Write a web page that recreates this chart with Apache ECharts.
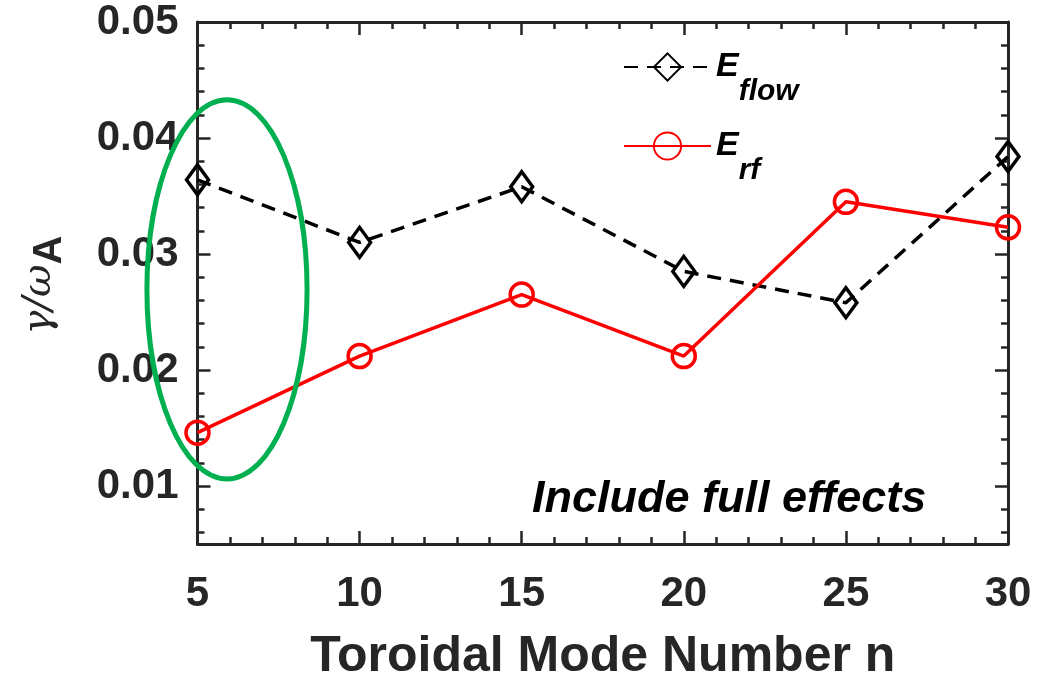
<!DOCTYPE html>
<html>
<head>
<meta charset="utf-8">
<script src="https://cdn.jsdelivr.net/npm/echarts@6/dist/echarts.min.js"></script>
<style>
  html, body { margin: 0; padding: 0; background: #ffffff; }
  #chart { width: 1038px; height: 677px; }
</style>
</head>
<body>
<div id="chart"></div>
<script>
// Toroidal mode numbers and normalised growth rates
const modeNumbers = [5, 10, 15, 20, 25, 30];
const flowRates = [0.0364, 0.0310, 0.0358, 0.0285, 0.0258, 0.0384];
const rfRates = [0.0146, 0.0212, 0.0265, 0.0212, 0.0345, 0.0323];

// y-axis tick positions
const yMajorTicks = [0.01, 0.02, 0.03, 0.04, 0.05];
const yMinorTicks = [0.006, 0.008, 0.012, 0.014, 0.016, 0.018, 0.022, 0.024, 0.026, 0.028,
                     0.032, 0.034, 0.036, 0.038, 0.042, 0.044, 0.046, 0.048];

// highlighted region: centre n, centre rate, half-width (n), half-height (rate)
const highlightRegion = [[5.91, 0.02695, 2.47, 0.01634]];

const INK = '#262626';
const FONT = '"Liberation Sans", Arial, Helvetica, sans-serif';
const Y_MIN = 0.005, Y_MAX = 0.05;

const chart = echarts.init(document.getElementById('chart'), null, { renderer: 'canvas' });

function xAxisDef(position, withLabels) {
  return {
    type: 'value', position: position, min: 5, max: 30, interval: 5,
    axisLine: { show: true, onZero: false, lineStyle: { color: INK, width: 3 } },
    axisTick: { show: true, inside: true, length: 13, lineStyle: { color: INK, width: 2.5 } },
    minorTick: { show: true, splitNumber: 5, length: 7, lineStyle: { color: INK, width: 2.5 } },
    splitLine: { show: false },
    axisLabel: {
      show: withLabels, margin: 29, color: INK, fontFamily: FONT, fontWeight: 'bold', fontSize: 42
    },
    name: withLabels ? 'Toroidal Mode Number n' : '',
    nameLocation: 'middle', nameGap: 88,
    nameTextStyle: { color: INK, fontFamily: FONT, fontWeight: 'bold', fontSize: 50 }
  };
}

function yAxisDef(position, ticks, tickLen, withLabels, withLine) {
  return {
    type: 'value', position: position, min: Y_MIN, max: Y_MAX,
    axisLine: { show: withLine, onZero: false, lineStyle: { color: INK, width: 3 } },
    axisTick: { show: true, inside: true, length: tickLen, customValues: ticks,
                lineStyle: { color: INK, width: 2.5 } },
    splitLine: { show: false },
    axisLabel: {
      show: withLabels, customValues: yMajorTicks, margin: 19,
      formatter: v => v.toFixed(2),
      color: INK, fontFamily: FONT, fontWeight: 'bold', fontSize: 42
    }
  };
}

const option = {
  backgroundColor: '#ffffff',
  animation: false,
  grid: { left: 197.5, right: 30, top: 22, bottom: 133, containLabel: false, outerBoundsMode: 'none' },
  xAxis: [xAxisDef('bottom', true), xAxisDef('top', false)],
  yAxis: [
    yAxisDef('left', yMajorTicks, 13, true, true),
    yAxisDef('left', yMinorTicks, 7, false, false),
    yAxisDef('right', yMajorTicks, 13, false, true),
    yAxisDef('right', yMinorTicks, 7, false, false)
  ],
  legend: {
    data: ['E_flow', 'E_rf'],
    orient: 'vertical',
    left: 623, top: 50, padding: 0, itemGap: 22,
    itemWidth: 87, itemHeight: 34,
    formatter: name => name === 'E_flow' ? '{e|E}{s|flow}' : '{e|E}{s|rf}',
    textStyle: {
      color: '#000000',
      rich: {
        e: { fontFamily: FONT, fontStyle: 'italic', fontWeight: 'bold', fontSize: 34,
             lineHeight: 80, verticalAlign: 'middle', color: '#000000' },
        s: { fontFamily: FONT, fontStyle: 'italic', fontWeight: 'bold', fontSize: 30,
             lineHeight: 36, verticalAlign: 'bottom', color: '#000000' }
      }
    }
  },
  graphic: [
    {
      type: 'text', left: 532, top: 477, z: 10,
      style: { text: 'Include full effects', fill: '#000000', fontFamily: FONT,
               fontStyle: 'italic', fontWeight: 'bold', fontSize: 45 }
    },
    {
      type: 'text', x: 40, y: 285, rotation: Math.PI / 2, z: 10,
      style: {
        text: '{g|γ/ω}{a|A}', align: 'center', verticalAlign: 'middle',
        rich: {
          g: { fontFamily: '"DejaVu Serif", "Liberation Serif", serif', fontStyle: 'italic',
               fontSize: 40, lineHeight: 60, verticalAlign: 'middle', fill: INK },
          a: { fontFamily: FONT, fontWeight: 'bold', fontSize: 40,
               lineHeight: 30, verticalAlign: 'bottom', fill: INK }
        }
      }
    }
  ],
  series: [
    {
      name: 'E_flow', type: 'line', xAxisIndex: 0, yAxisIndex: 0,
      data: modeNumbers.map((n, i) => [n, flowRates[i]]),
      symbol: 'diamond', symbolSize: [22, 30], z: 3,
      itemStyle: { color: 'rgba(0,0,0,0)', borderColor: '#000000', borderWidth: 3.5 },
      lineStyle: { color: '#000000', width: 3.5, type: [14, 9] },
      clip: false
    },
    {
      name: 'E_rf', type: 'line', xAxisIndex: 0, yAxisIndex: 0,
      data: modeNumbers.map((n, i) => [n, rfRates[i]]),
      symbol: 'circle', symbolSize: 23, z: 4,
      itemStyle: { color: 'rgba(0,0,0,0)', borderColor: '#ff0000', borderWidth: 3.5 },
      lineStyle: { color: '#ff0000', width: 3.5, type: 'solid' },
      clip: false
    },
    {
      name: 'region', type: 'custom', xAxisIndex: 0, yAxisIndex: 0, z: 5,
      data: highlightRegion,
      encode: { x: 0, y: 1 },
      renderItem: function (params, api) {
        const c = api.coord([api.value(0), api.value(1)]);
        const s = api.size([api.value(2), api.value(3)]);
        return {
          type: 'ellipse',
          shape: { cx: c[0], cy: c[1], rx: s[0], ry: s[1] },
          style: { fill: 'none', stroke: '#00b050', lineWidth: 5 }
        };
      }
    }
  ]
};

chart.setOption(option);
</script>
</body>
</html>
